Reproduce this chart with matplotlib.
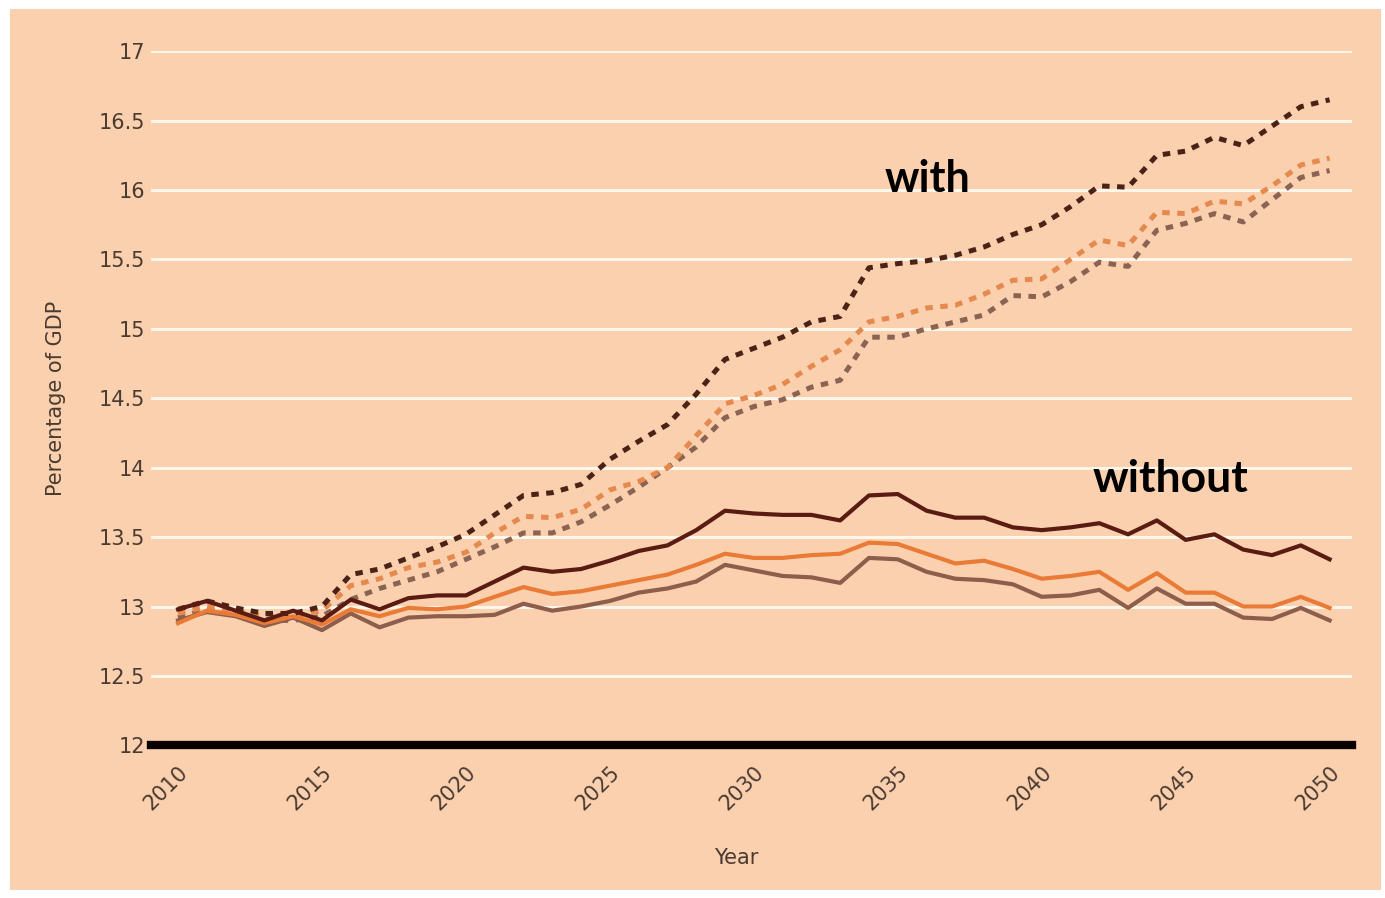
import numpy as np
import matplotlib.pyplot as plt
from matplotlib.patches import Rectangle

# annees
years = list(range(2010, 2051))

# avec (pointilles)
with_dark = [12.98, 13.04, 12.99, 12.95, 12.95, 13.00, 13.23, 13.27, 13.35, 13.43,
             13.52, 13.66, 13.80, 13.82, 13.88, 14.06, 14.19, 14.31, 14.53, 14.78,
             14.86, 14.94, 15.05, 15.09, 15.44, 15.47, 15.49, 15.53, 15.59, 15.68,
             15.75, 15.88, 16.03, 16.02, 16.25, 16.28, 16.38, 16.32, 16.46, 16.60,
             16.65]
with_orange = [12.95, 13.00, 12.97, 12.93, 12.93, 12.97, 13.15, 13.20, 13.28, 13.32,
               13.39, 13.53, 13.65, 13.64, 13.70, 13.84, 13.90, 14.00, 14.23, 14.46,
               14.52, 14.60, 14.73, 14.85, 15.05, 15.09, 15.15, 15.17, 15.25, 15.35,
               15.36, 15.50, 15.64, 15.60, 15.84, 15.83, 15.92, 15.90, 16.03, 16.18,
               16.23]
with_grey = [12.92, 12.98, 12.95, 12.90, 12.90, 12.93, 13.05, 13.13, 13.19, 13.25,
             13.34, 13.43, 13.53, 13.53, 13.61, 13.73, 13.86, 14.00, 14.15, 14.36,
             14.44, 14.49, 14.58, 14.63, 14.94, 14.94, 15.00, 15.05, 15.10, 15.24,
             15.23, 15.34, 15.48, 15.45, 15.71, 15.76, 15.83, 15.77, 15.93, 16.09,
             16.14]

# sans (traits pleins)
without_dark = [12.98, 13.04, 12.97, 12.90, 12.97, 12.90, 13.05, 12.98, 13.06, 13.08,
                13.08, 13.18, 13.28, 13.25, 13.27, 13.33, 13.40, 13.44, 13.55, 13.69,
                13.67, 13.66, 13.66, 13.62, 13.80, 13.81, 13.69, 13.64, 13.64, 13.57,
                13.55, 13.57, 13.60, 13.52, 13.62, 13.48, 13.52, 13.41, 13.37, 13.44,
                13.34]
without_orange = [12.88, 12.97, 12.94, 12.88, 12.93, 12.87, 12.98, 12.93, 12.99, 12.98,
                  13.00, 13.07, 13.14, 13.09, 13.11, 13.15, 13.19, 13.23, 13.30, 13.38,
                  13.35, 13.35, 13.37, 13.38, 13.46, 13.45, 13.38, 13.31, 13.33, 13.27,
                  13.20, 13.22, 13.25, 13.12, 13.24, 13.10, 13.10, 13.00, 13.00, 13.07,
                  12.99]
without_grey = [12.90, 12.96, 12.93, 12.86, 12.92, 12.83, 12.95, 12.85, 12.92, 12.93,
                12.93, 12.94, 13.02, 12.97, 13.00, 13.04, 13.10, 13.13, 13.18, 13.30,
                13.26, 13.22, 13.21, 13.17, 13.35, 13.34, 13.25, 13.20, 13.19, 13.16,
                13.07, 13.08, 13.12, 12.99, 13.13, 13.02, 13.02, 12.92, 12.91, 12.99,
                12.90]

xticks = [2010, 2015, 2020, 2025, 2030, 2035, 2040, 2045, 2050]
yticks = [12, 12.5, 13, 13.5, 14, 14.5, 15, 15.5, 16, 16.5, 17]

peche = '#FAD0AF'
texte = '#4A3A30'
police = ['Liberation Sans Narrow', 'DejaVu Sans']

fig = plt.figure(figsize=(13.85, 8.98), dpi=100, facecolor='white')
fig.patches.append(Rectangle((0.007, 0.009), 0.99, 0.981, transform=fig.transFigure,
                             facecolor=peche, edgecolor='none', zorder=-10))
ax = fig.add_axes([0.109, 0.170, 0.867, 0.773])
ax.set_facecolor(peche)

# grille blanche
for v in yticks[1:]:
    ax.axhline(v, color='#FFF6EA', lw=2.2, zorder=1)

tirets = (0, (1.5, 1.5))
ax.plot(years, with_grey, color='#8A6352', lw=3.6, ls=tirets, zorder=3)
ax.plot(years, with_orange, color='#E5894F', lw=3.6, ls=tirets, zorder=3)
ax.plot(years, with_dark, color='#4B2216', lw=3.6, ls=tirets, zorder=4)
ax.plot(years, without_grey, color='#8E5E4C', lw=3.0, zorder=3)
ax.plot(years, without_orange, color='#E97B36', lw=3.0, zorder=3)
ax.plot(years, without_dark, color='#5A1B12', lw=3.0, zorder=4)

ax.set_xlim(2009.06, 2050.77)
ax.set_ylim(12, 17)
ax.set_yticks(yticks)
ax.set_yticklabels([f'{v:g}' for v in yticks], family=police, fontsize=15, color=texte)
ax.set_xticks(xticks)
ax.set_xticklabels([str(v) for v in xticks], rotation=45, ha='right', va='top',
                   rotation_mode='anchor', family=police, fontsize=15, color=texte)
ax.tick_params(length=0, pad=4)
ax.tick_params(axis='x', pad=12)

for s in ['top', 'right', 'left']:
    ax.spines[s].set_visible(False)
ax.spines['bottom'].set_color('#0A0000')
ax.spines['bottom'].set_linewidth(6)
ax.spines['bottom'].set_zorder(5)

ax.set_xlabel('Year', family=police, fontsize=15, color=texte, labelpad=30)
ax.xaxis.set_label_coords(0.487, -0.148)
ax.set_ylabel('Percentage of GDP', family=police, fontsize=15, color=texte, labelpad=24)

ax.text(2036.05, 16.08, 'with', family=['Lato', 'DejaVu Sans'], fontweight='bold',
        fontsize=31, ha='center', va='center', color='black', zorder=6)
ax.text(2044.48, 13.92, 'without', family=['Lato', 'DejaVu Sans'], fontweight='bold',
        fontsize=32, ha='center', va='center', color='black', zorder=6)

fig.savefig('out.png', dpi=100, facecolor='white')
